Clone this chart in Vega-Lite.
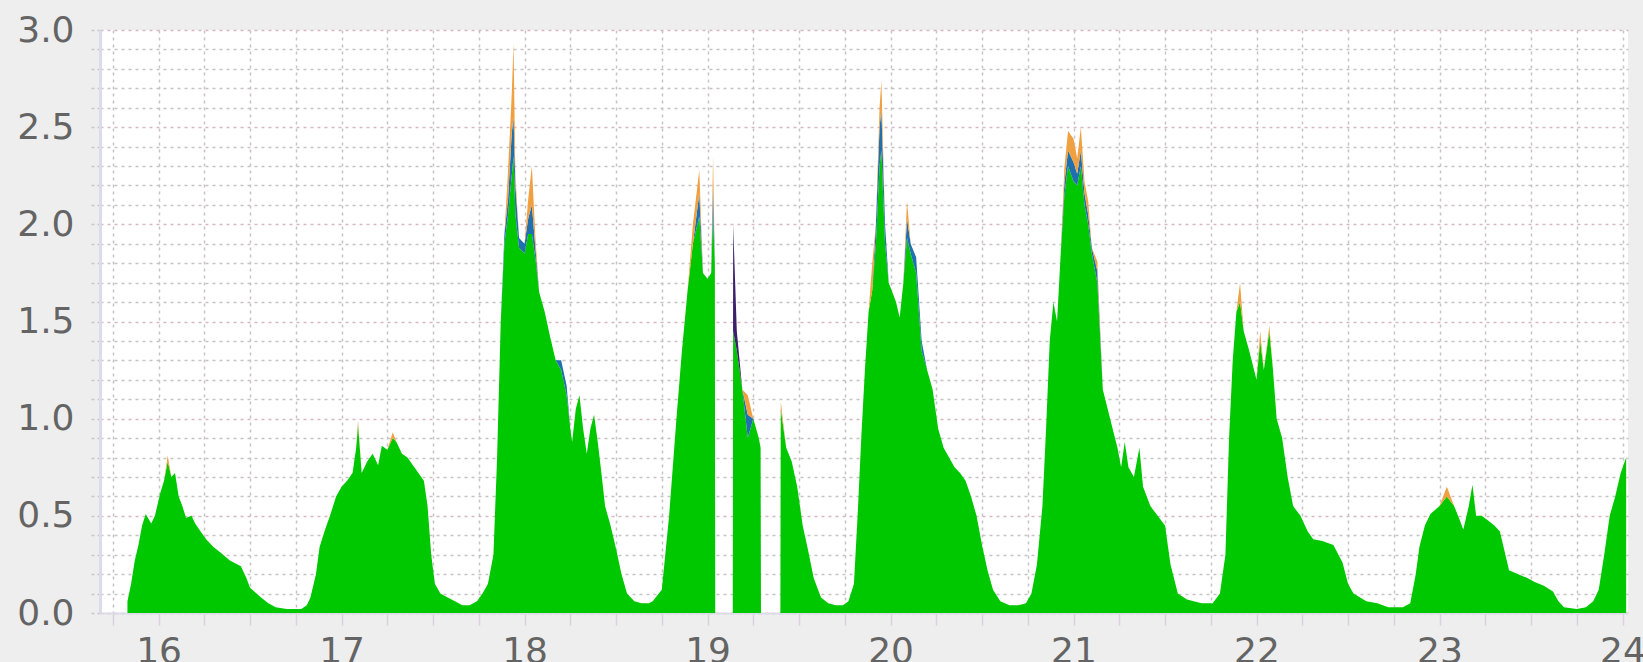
{
  "$schema": "https://vega.github.io/schema/vega-lite/v6.json",
  "width": 1528,
  "height": 583,
  "autosize": {"type": "none"},
  "padding": {"left": 100, "top": 30, "right": 15, "bottom": 49},
  "background": "#eeeeee",
  "config": {"view": {"stroke": null, "fill": "#ffffff"}, "font": "DejaVu Sans"},
  "data": {"values": [
    {"t":15.83,"base":0.06,"blue":0,"orange":0,"purple":0},
    {"t":15.85,"base":0.15,"blue":0,"orange":0,"purple":0},
    {"t":15.87,"base":0.27,"blue":0,"orange":0,"purple":0},
    {"t":15.89,"base":0.35,"blue":0,"orange":0,"purple":0},
    {"t":15.91,"base":0.45,"blue":0,"orange":0,"purple":0},
    {"t":15.93,"base":0.51,"blue":0,"orange":0,"purple":0},
    {"t":15.96,"base":0.46,"blue":0,"orange":0,"purple":0},
    {"t":15.98,"base":0.50,"blue":0,"orange":0,"purple":0},
    {"t":16.01,"base":0.62,"blue":0,"orange":0,"purple":0},
    {"t":16.03,"base":0.68,"blue":0,"orange":0,"purple":0},
    {"t":16.05,"base":0.78,"blue":0,"orange":0.03,"purple":0},
    {"t":16.07,"base":0.70,"blue":0,"orange":0,"purple":0},
    {"t":16.09,"base":0.72,"blue":0,"orange":0,"purple":0},
    {"t":16.11,"base":0.60,"blue":0,"orange":0,"purple":0},
    {"t":16.13,"base":0.55,"blue":0,"orange":0,"purple":0},
    {"t":16.15,"base":0.49,"blue":0,"orange":0,"purple":0},
    {"t":16.18,"base":0.50,"blue":0,"orange":0,"purple":0},
    {"t":16.20,"base":0.46,"blue":0,"orange":0,"purple":0},
    {"t":16.23,"base":0.42,"blue":0,"orange":0,"purple":0},
    {"t":16.26,"base":0.38,"blue":0,"orange":0,"purple":0},
    {"t":16.30,"base":0.34,"blue":0,"orange":0,"purple":0},
    {"t":16.34,"base":0.31,"blue":0,"orange":0,"purple":0},
    {"t":16.39,"base":0.27,"blue":0,"orange":0,"purple":0},
    {"t":16.45,"base":0.24,"blue":0,"orange":0,"purple":0},
    {"t":16.48,"base":0.18,"blue":0,"orange":0,"purple":0},
    {"t":16.50,"base":0.13,"blue":0,"orange":0,"purple":0},
    {"t":16.56,"base":0.08,"blue":0,"orange":0,"purple":0},
    {"t":16.60,"base":0.05,"blue":0,"orange":0,"purple":0},
    {"t":16.64,"base":0.03,"blue":0,"orange":0,"purple":0},
    {"t":16.70,"base":0.02,"blue":0,"orange":0,"purple":0},
    {"t":16.78,"base":0.02,"blue":0,"orange":0,"purple":0},
    {"t":16.81,"base":0.04,"blue":0,"orange":0,"purple":0},
    {"t":16.83,"base":0.08,"blue":0,"orange":0,"purple":0},
    {"t":16.86,"base":0.20,"blue":0,"orange":0,"purple":0},
    {"t":16.88,"base":0.34,"blue":0,"orange":0,"purple":0},
    {"t":16.91,"base":0.43,"blue":0,"orange":0,"purple":0},
    {"t":16.94,"base":0.51,"blue":0,"orange":0,"purple":0},
    {"t":16.97,"base":0.60,"blue":0,"orange":0,"purple":0},
    {"t":17.00,"base":0.65,"blue":0,"orange":0,"purple":0},
    {"t":17.03,"base":0.68,"blue":0,"orange":0,"purple":0},
    {"t":17.06,"base":0.72,"blue":0,"orange":0,"purple":0},
    {"t":17.08,"base":0.85,"blue":0,"orange":0,"purple":0},
    {"t":17.09,"base":0.97,"blue":0,"orange":0.02,"purple":0},
    {"t":17.11,"base":0.72,"blue":0,"orange":0,"purple":0},
    {"t":17.14,"base":0.78,"blue":0,"orange":0,"purple":0},
    {"t":17.17,"base":0.82,"blue":0,"orange":0,"purple":0},
    {"t":17.20,"base":0.76,"blue":0,"orange":0,"purple":0},
    {"t":17.22,"base":0.86,"blue":0,"orange":0,"purple":0},
    {"t":17.25,"base":0.84,"blue":0,"orange":0,"purple":0},
    {"t":17.28,"base":0.90,"blue":0,"orange":0.03,"purple":0},
    {"t":17.30,"base":0.88,"blue":0,"orange":0,"purple":0},
    {"t":17.33,"base":0.82,"blue":0,"orange":0,"purple":0},
    {"t":17.36,"base":0.80,"blue":0,"orange":0,"purple":0},
    {"t":17.39,"base":0.76,"blue":0,"orange":0,"purple":0},
    {"t":17.42,"base":0.72,"blue":0,"orange":0,"purple":0},
    {"t":17.45,"base":0.68,"blue":0,"orange":0,"purple":0},
    {"t":17.47,"base":0.55,"blue":0,"orange":0,"purple":0},
    {"t":17.49,"base":0.30,"blue":0,"orange":0,"purple":0},
    {"t":17.51,"base":0.15,"blue":0,"orange":0,"purple":0},
    {"t":17.54,"base":0.10,"blue":0,"orange":0,"purple":0},
    {"t":17.58,"base":0.08,"blue":0,"orange":0,"purple":0},
    {"t":17.62,"base":0.06,"blue":0,"orange":0,"purple":0},
    {"t":17.66,"base":0.04,"blue":0,"orange":0,"purple":0},
    {"t":17.70,"base":0.04,"blue":0,"orange":0,"purple":0},
    {"t":17.74,"base":0.06,"blue":0,"orange":0,"purple":0},
    {"t":17.77,"base":0.10,"blue":0,"orange":0,"purple":0},
    {"t":17.80,"base":0.15,"blue":0,"orange":0,"purple":0},
    {"t":17.83,"base":0.30,"blue":0,"orange":0,"purple":0},
    {"t":17.85,"base":0.80,"blue":0,"orange":0,"purple":0},
    {"t":17.87,"base":1.50,"blue":0,"orange":0,"purple":0},
    {"t":17.89,"base":1.90,"blue":0.05,"orange":0,"purple":0},
    {"t":17.91,"base":2.05,"blue":0.08,"orange":0.15,"purple":0},
    {"t":17.93,"base":2.25,"blue":0.22,"orange":0.2,"purple":0},
    {"t":17.94,"base":2.35,"blue":0.20,"orange":0.38,"purple":0},
    {"t":17.95,"base":2.05,"blue":0.15,"orange":0.05,"purple":0},
    {"t":17.97,"base":1.88,"blue":0.05,"orange":0,"purple":0},
    {"t":18.00,"base":1.85,"blue":0.05,"orange":0,"purple":0},
    {"t":18.02,"base":1.95,"blue":0.08,"orange":0.10,"purple":0},
    {"t":18.04,"base":1.95,"blue":0.15,"orange":0.20,"purple":0},
    {"t":18.06,"base":1.82,"blue":0.05,"orange":0.05,"purple":0},
    {"t":18.08,"base":1.65,"blue":0,"orange":0,"purple":0},
    {"t":18.11,"base":1.55,"blue":0,"orange":0,"purple":0},
    {"t":18.14,"base":1.42,"blue":0,"orange":0,"purple":0},
    {"t":18.17,"base":1.30,"blue":0,"orange":0,"purple":0},
    {"t":18.20,"base":1.25,"blue":0.05,"orange":0,"purple":0},
    {"t":18.23,"base":1.12,"blue":0.05,"orange":0,"purple":0},
    {"t":18.25,"base":0.95,"blue":0,"orange":0,"purple":0},
    {"t":18.26,"base":0.88,"blue":0,"orange":0,"purple":0},
    {"t":18.28,"base":1.05,"blue":0,"orange":0,"purple":0},
    {"t":18.30,"base":1.12,"blue":0,"orange":0,"purple":0},
    {"t":18.32,"base":0.95,"blue":0,"orange":0,"purple":0},
    {"t":18.34,"base":0.82,"blue":0,"orange":0,"purple":0},
    {"t":18.36,"base":0.95,"blue":0,"orange":0,"purple":0},
    {"t":18.38,"base":1.02,"blue":0,"orange":0,"purple":0},
    {"t":18.40,"base":0.88,"blue":0,"orange":0,"purple":0},
    {"t":18.42,"base":0.72,"blue":0,"orange":0,"purple":0},
    {"t":18.44,"base":0.55,"blue":0,"orange":0,"purple":0},
    {"t":18.47,"base":0.45,"blue":0,"orange":0,"purple":0},
    {"t":18.50,"base":0.33,"blue":0,"orange":0,"purple":0},
    {"t":18.53,"base":0.20,"blue":0,"orange":0,"purple":0},
    {"t":18.56,"base":0.10,"blue":0,"orange":0,"purple":0},
    {"t":18.60,"base":0.06,"blue":0,"orange":0,"purple":0},
    {"t":18.64,"base":0.05,"blue":0,"orange":0,"purple":0},
    {"t":18.68,"base":0.05,"blue":0,"orange":0,"purple":0},
    {"t":18.70,"base":0.06,"blue":0,"orange":0,"purple":0},
    {"t":18.75,"base":0.12,"blue":0,"orange":0,"purple":0},
    {"t":18.79,"base":0.50,"blue":0,"orange":0,"purple":0},
    {"t":18.83,"base":1.00,"blue":0,"orange":0,"purple":0},
    {"t":18.86,"base":1.35,"blue":0,"orange":0,"purple":0},
    {"t":18.89,"base":1.65,"blue":0,"orange":0,"purple":0},
    {"t":18.92,"base":1.90,"blue":0,"orange":0.10,"purple":0},
    {"t":18.955,"base":2.04,"blue":0.12,"orange":0.12,"purple":0},
    {"t":18.975,"base":1.75,"blue":0,"orange":0,"purple":0},
    {"t":19.00,"base":1.72,"blue":0,"orange":0,"purple":0},
    {"t":19.02,"base":1.75,"blue":0,"orange":0,"purple":0},
    {"t":19.03,"base":2.05,"blue":0.15,"orange":0.15,"purple":0},
    {"t":19.04,"base":1.80,"blue":0,"orange":0,"purple":0},
    {"t":19.042,"base":0,"blue":0,"orange":0,"purple":0},
    {"t":19.138,"base":0,"blue":0,"orange":0,"purple":0},
    {"t":19.14,"base":1.45,"blue":0,"orange":0,"purple":0.55},
    {"t":19.16,"base":1.35,"blue":0,"orange":0,"purple":0.10},
    {"t":19.19,"base":1.15,"blue":0,"orange":0,"purple":0},
    {"t":19.22,"base":0.90,"blue":0.12,"orange":0.10,"purple":0},
    {"t":19.25,"base":1.00,"blue":0,"orange":0,"purple":0},
    {"t":19.28,"base":0.90,"blue":0,"orange":0,"purple":0},
    {"t":19.29,"base":0.85,"blue":0,"orange":0,"purple":0},
    {"t":19.292,"base":0,"blue":0,"orange":0,"purple":0},
    {"t":19.398,"base":0,"blue":0,"orange":0,"purple":0},
    {"t":19.40,"base":1.05,"blue":0,"orange":0.04,"purple":0},
    {"t":19.43,"base":0.85,"blue":0,"orange":0,"purple":0},
    {"t":19.46,"base":0.78,"blue":0,"orange":0,"purple":0},
    {"t":19.49,"base":0.65,"blue":0,"orange":0,"purple":0},
    {"t":19.52,"base":0.45,"blue":0,"orange":0,"purple":0},
    {"t":19.55,"base":0.32,"blue":0,"orange":0,"purple":0},
    {"t":19.58,"base":0.18,"blue":0,"orange":0,"purple":0},
    {"t":19.62,"base":0.08,"blue":0,"orange":0,"purple":0},
    {"t":19.66,"base":0.05,"blue":0,"orange":0,"purple":0},
    {"t":19.70,"base":0.04,"blue":0,"orange":0,"purple":0},
    {"t":19.74,"base":0.04,"blue":0,"orange":0,"purple":0},
    {"t":19.77,"base":0.06,"blue":0,"orange":0,"purple":0},
    {"t":19.80,"base":0.15,"blue":0,"orange":0,"purple":0},
    {"t":19.82,"base":0.50,"blue":0,"orange":0,"purple":0},
    {"t":19.84,"base":0.90,"blue":0,"orange":0,"purple":0},
    {"t":19.86,"base":1.25,"blue":0,"orange":0,"purple":0},
    {"t":19.88,"base":1.55,"blue":0,"orange":0,"purple":0},
    {"t":19.90,"base":1.66,"blue":0,"orange":0.14,"purple":0},
    {"t":19.92,"base":1.90,"blue":0.10,"orange":0,"purple":0},
    {"t":19.94,"base":2.30,"blue":0.20,"orange":0.10,"purple":0},
    {"t":19.95,"base":2.38,"blue":0.21,"orange":0.15,"purple":0},
    {"t":19.97,"base":1.90,"blue":0.10,"orange":0,"purple":0},
    {"t":19.99,"base":1.70,"blue":0,"orange":0,"purple":0},
    {"t":20.01,"base":1.65,"blue":0,"orange":0,"purple":0},
    {"t":20.03,"base":1.60,"blue":0,"orange":0,"purple":0},
    {"t":20.05,"base":1.52,"blue":0,"orange":0,"purple":0},
    {"t":20.07,"base":1.70,"blue":0,"orange":0,"purple":0},
    {"t":20.09,"base":1.93,"blue":0.10,"orange":0.09,"purple":0},
    {"t":20.11,"base":1.85,"blue":0.05,"orange":0,"purple":0},
    {"t":20.14,"base":1.75,"blue":0.08,"orange":0,"purple":0},
    {"t":20.17,"base":1.35,"blue":0.05,"orange":0,"purple":0},
    {"t":20.20,"base":1.25,"blue":0,"orange":0,"purple":0},
    {"t":20.23,"base":1.15,"blue":0,"orange":0,"purple":0},
    {"t":20.26,"base":0.95,"blue":0,"orange":0,"purple":0},
    {"t":20.29,"base":0.85,"blue":0,"orange":0,"purple":0},
    {"t":20.32,"base":0.80,"blue":0,"orange":0,"purple":0},
    {"t":20.35,"base":0.75,"blue":0,"orange":0,"purple":0},
    {"t":20.38,"base":0.72,"blue":0,"orange":0,"purple":0},
    {"t":20.41,"base":0.68,"blue":0,"orange":0,"purple":0},
    {"t":20.44,"base":0.60,"blue":0,"orange":0,"purple":0},
    {"t":20.47,"base":0.50,"blue":0,"orange":0,"purple":0},
    {"t":20.50,"base":0.35,"blue":0,"orange":0,"purple":0},
    {"t":20.53,"base":0.22,"blue":0,"orange":0,"purple":0},
    {"t":20.56,"base":0.12,"blue":0,"orange":0,"purple":0},
    {"t":20.60,"base":0.06,"blue":0,"orange":0,"purple":0},
    {"t":20.65,"base":0.04,"blue":0,"orange":0,"purple":0},
    {"t":20.70,"base":0.04,"blue":0,"orange":0,"purple":0},
    {"t":20.74,"base":0.05,"blue":0,"orange":0,"purple":0},
    {"t":20.77,"base":0.10,"blue":0,"orange":0,"purple":0},
    {"t":20.80,"base":0.25,"blue":0,"orange":0,"purple":0},
    {"t":20.83,"base":0.55,"blue":0,"orange":0,"purple":0},
    {"t":20.85,"base":0.95,"blue":0,"orange":0,"purple":0},
    {"t":20.87,"base":1.40,"blue":0,"orange":0,"purple":0},
    {"t":20.89,"base":1.60,"blue":0,"orange":0,"purple":0},
    {"t":20.91,"base":1.50,"blue":0,"orange":0,"purple":0},
    {"t":20.93,"base":1.85,"blue":0,"orange":0,"purple":0},
    {"t":20.95,"base":2.15,"blue":0.06,"orange":0.08,"purple":0},
    {"t":20.97,"base":2.30,"blue":0.08,"orange":0.10,"purple":0},
    {"t":21.00,"base":2.22,"blue":0.10,"orange":0.12,"purple":0},
    {"t":21.02,"base":2.20,"blue":0.06,"orange":0.08,"purple":0},
    {"t":21.04,"base":2.30,"blue":0.08,"orange":0.12,"purple":0},
    {"t":21.06,"base":2.10,"blue":0.06,"orange":0.06,"purple":0},
    {"t":21.08,"base":2.00,"blue":0.05,"orange":0.07,"purple":0},
    {"t":21.10,"base":1.85,"blue":0.03,"orange":0,"purple":0},
    {"t":21.13,"base":1.70,"blue":0.06,"orange":0.05,"purple":0},
    {"t":21.16,"base":1.15,"blue":0,"orange":0,"purple":0},
    {"t":21.20,"base":1.00,"blue":0,"orange":0,"purple":0},
    {"t":21.24,"base":0.85,"blue":0,"orange":0,"purple":0},
    {"t":21.26,"base":0.75,"blue":0,"orange":0,"purple":0},
    {"t":21.28,"base":0.88,"blue":0,"orange":0,"purple":0},
    {"t":21.30,"base":0.75,"blue":0,"orange":0,"purple":0},
    {"t":21.33,"base":0.70,"blue":0,"orange":0,"purple":0},
    {"t":21.36,"base":0.85,"blue":0,"orange":0,"purple":0},
    {"t":21.38,"base":0.65,"blue":0,"orange":0,"purple":0},
    {"t":21.42,"base":0.55,"blue":0,"orange":0,"purple":0},
    {"t":21.46,"base":0.50,"blue":0,"orange":0,"purple":0},
    {"t":21.50,"base":0.45,"blue":0,"orange":0,"purple":0},
    {"t":21.53,"base":0.25,"blue":0,"orange":0,"purple":0},
    {"t":21.57,"base":0.10,"blue":0,"orange":0,"purple":0},
    {"t":21.62,"base":0.07,"blue":0,"orange":0,"purple":0},
    {"t":21.70,"base":0.05,"blue":0,"orange":0,"purple":0},
    {"t":21.76,"base":0.05,"blue":0,"orange":0,"purple":0},
    {"t":21.80,"base":0.10,"blue":0,"orange":0,"purple":0},
    {"t":21.83,"base":0.30,"blue":0,"orange":0,"purple":0},
    {"t":21.85,"base":0.90,"blue":0,"orange":0,"purple":0},
    {"t":21.87,"base":1.30,"blue":0,"orange":0,"purple":0},
    {"t":21.89,"base":1.55,"blue":0,"orange":0,"purple":0},
    {"t":21.91,"base":1.60,"blue":0,"orange":0.10,"purple":0},
    {"t":21.93,"base":1.45,"blue":0,"orange":0,"purple":0},
    {"t":21.96,"base":1.35,"blue":0,"orange":0,"purple":0},
    {"t":22.00,"base":1.20,"blue":0,"orange":0,"purple":0},
    {"t":22.02,"base":1.40,"blue":0,"orange":0.05,"purple":0},
    {"t":22.04,"base":1.25,"blue":0,"orange":0,"purple":0},
    {"t":22.07,"base":1.45,"blue":0,"orange":0.03,"purple":0},
    {"t":22.09,"base":1.25,"blue":0,"orange":0,"purple":0},
    {"t":22.11,"base":1.00,"blue":0,"orange":0,"purple":0},
    {"t":22.14,"base":0.90,"blue":0,"orange":0,"purple":0},
    {"t":22.17,"base":0.70,"blue":0,"orange":0,"purple":0},
    {"t":22.20,"base":0.55,"blue":0,"orange":0,"purple":0},
    {"t":22.24,"base":0.50,"blue":0,"orange":0,"purple":0},
    {"t":22.28,"base":0.42,"blue":0,"orange":0,"purple":0},
    {"t":22.31,"base":0.38,"blue":0,"orange":0,"purple":0},
    {"t":22.36,"base":0.37,"blue":0,"orange":0,"purple":0},
    {"t":22.42,"base":0.35,"blue":0,"orange":0,"purple":0},
    {"t":22.47,"base":0.26,"blue":0,"orange":0,"purple":0},
    {"t":22.50,"base":0.15,"blue":0,"orange":0,"purple":0},
    {"t":22.53,"base":0.10,"blue":0,"orange":0,"purple":0},
    {"t":22.60,"base":0.06,"blue":0,"orange":0,"purple":0},
    {"t":22.66,"base":0.05,"blue":0,"orange":0,"purple":0},
    {"t":22.72,"base":0.03,"blue":0,"orange":0,"purple":0},
    {"t":22.80,"base":0.03,"blue":0,"orange":0,"purple":0},
    {"t":22.84,"base":0.05,"blue":0,"orange":0,"purple":0},
    {"t":22.87,"base":0.20,"blue":0,"orange":0,"purple":0},
    {"t":22.89,"base":0.34,"blue":0,"orange":0,"purple":0},
    {"t":22.92,"base":0.45,"blue":0,"orange":0,"purple":0},
    {"t":22.95,"base":0.51,"blue":0,"orange":0,"purple":0},
    {"t":23.00,"base":0.55,"blue":0,"orange":0,"purple":0},
    {"t":23.04,"base":0.60,"blue":0,"orange":0.05,"purple":0},
    {"t":23.08,"base":0.55,"blue":0,"orange":0,"purple":0},
    {"t":23.11,"base":0.48,"blue":0,"orange":0,"purple":0},
    {"t":23.13,"base":0.43,"blue":0,"orange":0,"purple":0},
    {"t":23.16,"base":0.55,"blue":0,"orange":0,"purple":0},
    {"t":23.18,"base":0.66,"blue":0,"orange":0,"purple":0},
    {"t":23.20,"base":0.50,"blue":0,"orange":0,"purple":0},
    {"t":23.23,"base":0.50,"blue":0,"orange":0,"purple":0},
    {"t":23.26,"base":0.48,"blue":0,"orange":0,"purple":0},
    {"t":23.30,"base":0.45,"blue":0,"orange":0,"purple":0},
    {"t":23.33,"base":0.42,"blue":0,"orange":0,"purple":0},
    {"t":23.36,"base":0.30,"blue":0,"orange":0,"purple":0},
    {"t":23.38,"base":0.22,"blue":0,"orange":0,"purple":0},
    {"t":23.43,"base":0.20,"blue":0,"orange":0,"purple":0},
    {"t":23.48,"base":0.18,"blue":0,"orange":0,"purple":0},
    {"t":23.52,"base":0.16,"blue":0,"orange":0,"purple":0},
    {"t":23.57,"base":0.14,"blue":0,"orange":0,"purple":0},
    {"t":23.62,"base":0.11,"blue":0,"orange":0,"purple":0},
    {"t":23.65,"base":0.06,"blue":0,"orange":0,"purple":0},
    {"t":23.68,"base":0.03,"blue":0,"orange":0,"purple":0},
    {"t":23.75,"base":0.02,"blue":0,"orange":0,"purple":0},
    {"t":23.80,"base":0.03,"blue":0,"orange":0,"purple":0},
    {"t":23.84,"base":0.06,"blue":0,"orange":0,"purple":0},
    {"t":23.87,"base":0.12,"blue":0,"orange":0,"purple":0},
    {"t":23.90,"base":0.30,"blue":0,"orange":0,"purple":0},
    {"t":23.93,"base":0.50,"blue":0,"orange":0,"purple":0},
    {"t":23.96,"base":0.60,"blue":0,"orange":0,"purple":0},
    {"t":23.99,"base":0.72,"blue":0,"orange":0,"purple":0},
    {"t":24.02,"base":0.80,"blue":0,"orange":0,"purple":0}
  ]},
  "transform": [{"fold": ["base", "blue", "orange", "purple"], "as": ["series", "v"]}],
  "mark": {"type": "area", "interpolate": "linear"},
  "encoding": {
    "x": {
      "field": "t", "type": "quantitative",
      "scale": {"domain": [15.68, 24.03], "nice": false, "zero": false},
      "axis": {
        "title": null,
        "values": [15.75,16,16.25,16.5,16.75,17,17.25,17.5,17.75,18,18.25,18.5,18.75,19,19.25,19.5,19.75,20,20.25,20.5,20.75,21,21.25,21.5,21.75,22,22.25,22.5,22.75,23,23.25,23.5,23.75,24],
        "labelExpr": "datum.value % 1 == 0 ? format(datum.value, 'd') : ''",
        "labelFontSize": 36, "labelColor": "#646464", "labelFont": "DejaVu Sans",
        "labelFlush": false, "labelOverlap": false, "labelPadding": 9,
        "grid": true, "gridColor": "#c8c2c6", "gridDash": [3, 4], "gridWidth": 1.5,
        "ticks": true, "tickSize": 12, "tickColor": "#d8d0dc", "tickWidth": 1.5,
        "domainColor": "#dcdce8", "domainWidth": 2
      }
    },
    "y": {
      "field": "v", "type": "quantitative", "stack": "zero",
      "scale": {"domain": [0, 3], "nice": false},
      "axis": {
        "title": null,
        "values": [0,0.1,0.2,0.3,0.4,0.5,0.6,0.7,0.8,0.9,1,1.1,1.2,1.3,1.4,1.5,1.6,1.7,1.8,1.9,2,2.1,2.2,2.3,2.4,2.5,2.6,2.7,2.8,2.9,3],
        "labelExpr": "round(datum.value * 10) % 5 == 0 ? format(datum.value, '.1f') : ''",
        "labelFontSize": 36, "labelColor": "#646464", "labelFont": "DejaVu Sans",
        "labelOverlap": false, "labelPadding": 16,
        "grid": true,
        "gridColor": {"condition": {"test": "round(datum.value * 10) % 5 == 0", "value": "#d6b8c0"}, "value": "#c8c2c6"},
        "gridDash": [3, 4], "gridWidth": 1.5,
        "ticks": true, "tickSize": 10, "tickColor": "#ccc4cc", "tickDash": [3, 3], "tickWidth": 1.5,
        "domainColor": "#dcdce8", "domainWidth": 3
      }
    },
    "color": {
      "field": "series", "type": "nominal",
      "scale": {"domain": ["base", "blue", "orange", "purple"], "range": ["#00c800", "#2070b0", "#f0a040", "#3a1f6a"]},
      "legend": null
    },
    "order": {"field": "series", "sort": "ascending"}
  }
}
